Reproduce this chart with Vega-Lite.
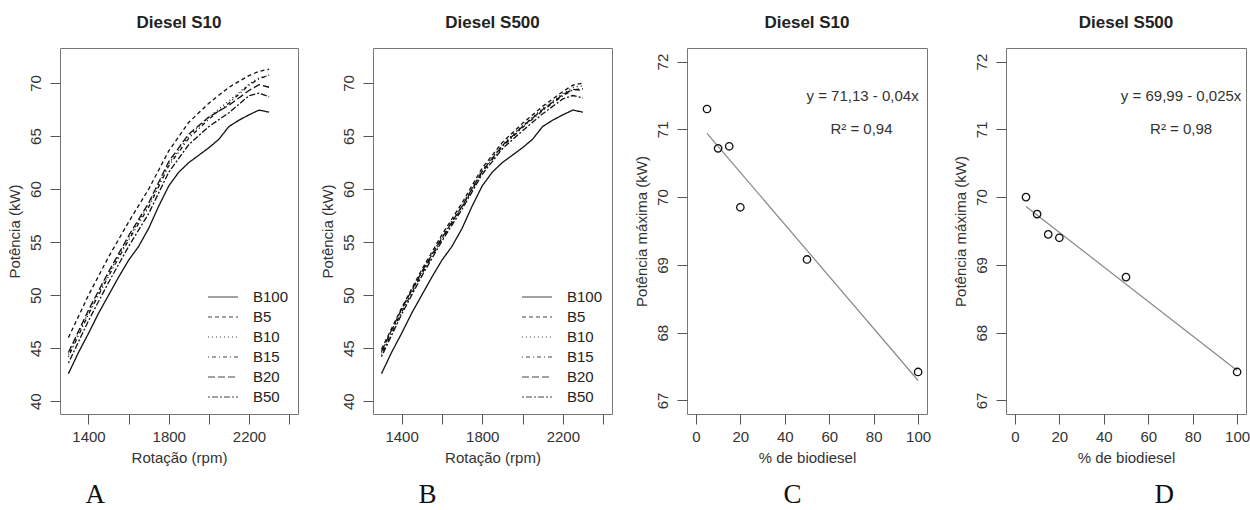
{
  "$schema": "https://vega.github.io/schema/vega-lite/v6.json",
  "background": "white",
  "padding": {"left": 6, "top": 13, "right": 0, "bottom": 0},
  "config": {
    "font": "Liberation Sans",
    "view": {"stroke": "#777", "strokeWidth": 1},
    "axis": {"domain": false, "grid": false, "tickColor": "#555", "tickSize": 10, "labelFontSize": 15, "labelColor": "#333", "titleFontSize": 15, "titleColor": "#333", "titleFontWeight": "normal", "labelPadding": 5, "titlePadding": 6},
    "axisY": {"labelAngle": -90, "labelAlign": "center", "labelBaseline": "bottom", "labelPadding": 7, "titlePadding": 6},
    "title": {"fontSize": 17, "fontWeight": "bold", "color": "#222", "offset": 16.5},
    "concat": {"spacing": 20}
  },
  "datasets": {
    "s10": [
      {"m":"B100","rpm":1300,"kW":42.6},{"m":"B100","rpm":1350,"kW":44.6},{"m":"B100","rpm":1400,"kW":46.4},{"m":"B100","rpm":1450,"kW":48.3},{"m":"B100","rpm":1500,"kW":50.0},{"m":"B100","rpm":1550,"kW":51.7},{"m":"B100","rpm":1600,"kW":53.3},{"m":"B100","rpm":1650,"kW":54.6},{"m":"B100","rpm":1700,"kW":56.3},{"m":"B100","rpm":1750,"kW":58.4},{"m":"B100","rpm":1800,"kW":60.3},{"m":"B100","rpm":1850,"kW":61.6},{"m":"B100","rpm":1900,"kW":62.5},{"m":"B100","rpm":1950,"kW":63.2},{"m":"B100","rpm":2000,"kW":63.9},{"m":"B100","rpm":2050,"kW":64.7},{"m":"B100","rpm":2100,"kW":65.9},{"m":"B100","rpm":2150,"kW":66.5},{"m":"B100","rpm":2200,"kW":67.0},{"m":"B100","rpm":2250,"kW":67.45},{"m":"B100","rpm":2300,"kW":67.25},
      {"m":"B5","rpm":1300,"kW":46.0},{"m":"B5","rpm":1400,"kW":50.0},{"m":"B5","rpm":1500,"kW":53.6},{"m":"B5","rpm":1600,"kW":56.9},{"m":"B5","rpm":1700,"kW":60.0},{"m":"B5","rpm":1800,"kW":63.6},{"m":"B5","rpm":1900,"kW":66.3},{"m":"B5","rpm":2000,"kW":68.1},{"m":"B5","rpm":2100,"kW":69.6},{"m":"B5","rpm":2200,"kW":70.7},{"m":"B5","rpm":2250,"kW":71.1},{"m":"B5","rpm":2300,"kW":71.3},
      {"m":"B10","rpm":1300,"kW":44.4},{"m":"B10","rpm":1400,"kW":48.4},{"m":"B10","rpm":1500,"kW":52.0},{"m":"B10","rpm":1600,"kW":55.4},{"m":"B10","rpm":1700,"kW":58.5},{"m":"B10","rpm":1800,"kW":62.4},{"m":"B10","rpm":1900,"kW":65.0},{"m":"B10","rpm":2000,"kW":66.8},{"m":"B10","rpm":2100,"kW":68.3},{"m":"B10","rpm":2200,"kW":69.9},{"m":"B10","rpm":2250,"kW":70.5},{"m":"B10","rpm":2300,"kW":70.7},
      {"m":"B15","rpm":1300,"kW":44.2},{"m":"B15","rpm":1400,"kW":48.2},{"m":"B15","rpm":1500,"kW":51.8},{"m":"B15","rpm":1600,"kW":55.2},{"m":"B15","rpm":1700,"kW":58.3},{"m":"B15","rpm":1800,"kW":62.2},{"m":"B15","rpm":1900,"kW":64.8},{"m":"B15","rpm":2000,"kW":66.6},{"m":"B15","rpm":2100,"kW":68.1},{"m":"B15","rpm":2200,"kW":69.8},{"m":"B15","rpm":2250,"kW":70.4},{"m":"B15","rpm":2300,"kW":70.75},
      {"m":"B20","rpm":1300,"kW":44.6},{"m":"B20","rpm":1400,"kW":48.6},{"m":"B20","rpm":1500,"kW":52.2},{"m":"B20","rpm":1600,"kW":55.6},{"m":"B20","rpm":1700,"kW":58.7},{"m":"B20","rpm":1800,"kW":62.6},{"m":"B20","rpm":1900,"kW":65.2},{"m":"B20","rpm":2000,"kW":66.8},{"m":"B20","rpm":2100,"kW":67.9},{"m":"B20","rpm":2200,"kW":69.3},{"m":"B20","rpm":2250,"kW":69.85},{"m":"B20","rpm":2300,"kW":69.6},
      {"m":"B50","rpm":1300,"kW":43.6},{"m":"B50","rpm":1400,"kW":47.6},{"m":"B50","rpm":1500,"kW":51.2},{"m":"B50","rpm":1600,"kW":54.6},{"m":"B50","rpm":1700,"kW":57.7},{"m":"B50","rpm":1800,"kW":61.6},{"m":"B50","rpm":1900,"kW":64.2},{"m":"B50","rpm":2000,"kW":65.9},{"m":"B50","rpm":2100,"kW":67.2},{"m":"B50","rpm":2200,"kW":68.8},{"m":"B50","rpm":2250,"kW":69.05},{"m":"B50","rpm":2300,"kW":68.7}
    ],
    "s500": [
      {"m":"B100","rpm":1300,"kW":42.6},{"m":"B100","rpm":1350,"kW":44.6},{"m":"B100","rpm":1400,"kW":46.4},{"m":"B100","rpm":1450,"kW":48.3},{"m":"B100","rpm":1500,"kW":50.0},{"m":"B100","rpm":1550,"kW":51.7},{"m":"B100","rpm":1600,"kW":53.3},{"m":"B100","rpm":1650,"kW":54.6},{"m":"B100","rpm":1700,"kW":56.3},{"m":"B100","rpm":1750,"kW":58.4},{"m":"B100","rpm":1800,"kW":60.3},{"m":"B100","rpm":1850,"kW":61.6},{"m":"B100","rpm":1900,"kW":62.5},{"m":"B100","rpm":1950,"kW":63.2},{"m":"B100","rpm":2000,"kW":63.9},{"m":"B100","rpm":2050,"kW":64.7},{"m":"B100","rpm":2100,"kW":65.9},{"m":"B100","rpm":2150,"kW":66.5},{"m":"B100","rpm":2200,"kW":67.0},{"m":"B100","rpm":2250,"kW":67.45},{"m":"B100","rpm":2300,"kW":67.25},
      {"m":"B5","rpm":1300,"kW":44.9},{"m":"B5","rpm":1400,"kW":48.8},{"m":"B5","rpm":1500,"kW":52.4},{"m":"B5","rpm":1600,"kW":55.7},{"m":"B5","rpm":1700,"kW":58.7},{"m":"B5","rpm":1800,"kW":62.0},{"m":"B5","rpm":1900,"kW":64.4},{"m":"B5","rpm":2000,"kW":66.2},{"m":"B5","rpm":2100,"kW":67.8},{"m":"B5","rpm":2200,"kW":69.2},{"m":"B5","rpm":2250,"kW":69.8},{"m":"B5","rpm":2300,"kW":70.0},
      {"m":"B10","rpm":1300,"kW":44.6},{"m":"B10","rpm":1400,"kW":48.6},{"m":"B10","rpm":1500,"kW":52.2},{"m":"B10","rpm":1600,"kW":55.5},{"m":"B10","rpm":1700,"kW":58.5},{"m":"B10","rpm":1800,"kW":61.8},{"m":"B10","rpm":1900,"kW":64.2},{"m":"B10","rpm":2000,"kW":66.0},{"m":"B10","rpm":2100,"kW":67.6},{"m":"B10","rpm":2200,"kW":69.0},{"m":"B10","rpm":2250,"kW":69.6},{"m":"B10","rpm":2300,"kW":69.75},
      {"m":"B15","rpm":1300,"kW":44.4},{"m":"B15","rpm":1400,"kW":48.4},{"m":"B15","rpm":1500,"kW":52.0},{"m":"B15","rpm":1600,"kW":55.3},{"m":"B15","rpm":1700,"kW":58.3},{"m":"B15","rpm":1800,"kW":61.6},{"m":"B15","rpm":1900,"kW":64.0},{"m":"B15","rpm":2000,"kW":65.8},{"m":"B15","rpm":2100,"kW":67.4},{"m":"B15","rpm":2200,"kW":68.8},{"m":"B15","rpm":2250,"kW":69.35},{"m":"B15","rpm":2300,"kW":69.45},
      {"m":"B20","rpm":1300,"kW":44.7},{"m":"B20","rpm":1400,"kW":48.7},{"m":"B20","rpm":1500,"kW":52.2},{"m":"B20","rpm":1600,"kW":55.4},{"m":"B20","rpm":1700,"kW":58.4},{"m":"B20","rpm":1800,"kW":61.7},{"m":"B20","rpm":1900,"kW":64.1},{"m":"B20","rpm":2000,"kW":65.9},{"m":"B20","rpm":2100,"kW":67.5},{"m":"B20","rpm":2200,"kW":68.9},{"m":"B20","rpm":2250,"kW":69.4},{"m":"B20","rpm":2300,"kW":69.3},
      {"m":"B50","rpm":1300,"kW":44.2},{"m":"B50","rpm":1400,"kW":48.2},{"m":"B50","rpm":1500,"kW":51.8},{"m":"B50","rpm":1600,"kW":55.1},{"m":"B50","rpm":1700,"kW":58.1},{"m":"B50","rpm":1800,"kW":61.4},{"m":"B50","rpm":1900,"kW":63.8},{"m":"B50","rpm":2000,"kW":65.5},{"m":"B50","rpm":2100,"kW":67.1},{"m":"B50","rpm":2200,"kW":68.5},{"m":"B50","rpm":2250,"kW":68.82},{"m":"B50","rpm":2300,"kW":68.6}
    ],
    "maxS10": [
      {"pct":5,"kW":71.3},{"pct":10,"kW":70.72},{"pct":15,"kW":70.75},{"pct":20,"kW":69.85},{"pct":50,"kW":69.08},{"pct":100,"kW":67.42}
    ],
    "maxS500": [
      {"pct":5,"kW":70.0},{"pct":10,"kW":69.75},{"pct":15,"kW":69.45},{"pct":20,"kW":69.4},{"pct":50,"kW":68.82},{"pct":100,"kW":67.42}
    ],
    "anotS10": [
      {"pct":75,"kW":71.49,"txt":"y = 71,13 - 0,04x"},{"pct":74.5,"kW":71.01,"txt":"R² = 0,94"}
    ],
    "anotS500": [
      {"pct":74.8,"kW":71.49,"txt":"y = 69,99 - 0,025x"},{"pct":74.8,"kW":71.01,"txt":"R² = 0,98"}
    ]
  },
  "hconcat": [
    {
      "title": {"text": "A", "orient": "bottom", "anchor": "start", "font": "Liberation Serif", "fontSize": 27, "fontWeight": "normal", "color": "#111", "offset": 16, "dx": 79},
      "resolve": {"scale": {"strokeDash": "independent"}, "legend": {"strokeDash": "independent"}},
      "vconcat": [
        {
          "title": {"text": "Diesel S10"},
          "width": 238, "height": 366,
          "data": {"name": "s10"},
          "mark": {"type": "line", "strokeWidth": 1.3, "color": "#111"},
          "encoding": {
            "x": {"field": "rpm", "type": "quantitative", "scale": {"domain": [1258, 2444], "nice": false, "zero": false}, "axis": {"values": [1400, 1600, 1800, 2000, 2200, 2400], "format": "d", "labelExpr": "datum.value % 400 == 200 ? datum.label : ''", "title": "Rotação (rpm)"}},
            "y": {"field": "kW", "type": "quantitative", "scale": {"domain": [38.8, 73.3], "nice": false, "zero": false}, "axis": {"values": [40, 45, 50, 55, 60, 65, 70], "format": "d", "title": "Potência (kW)"}},
            "strokeDash": {"field": "m", "type": "nominal", "scale": {"domain": ["B100", "B5", "B10", "B15", "B20", "B50"], "range": [[1, 0], [4, 3], [1, 3], [1, 3, 4, 3], [7, 3], [2, 2, 6, 2]]},
              "legend": {"title": null, "orient": "bottom-right", "offset": 9, "padding": 0, "symbolType": "M-1.5,0H1.5", "symbolSize": 400, "symbolStrokeWidth": 1.2, "symbolStrokeColor": "#444", "labelFontSize": 15, "labelColor": "#222", "labelOffset": 19, "rowPadding": 1}}
          }
        }
      ]
    },
    {
      "title": {"text": "B", "orient": "bottom", "anchor": "start", "font": "Liberation Serif", "fontSize": 27, "fontWeight": "normal", "color": "#111", "offset": 16, "dx": 99},
      "resolve": {"scale": {"strokeDash": "independent"}, "legend": {"strokeDash": "independent"}},
      "vconcat": [
        {
          "title": {"text": "Diesel S500"},
          "width": 239, "height": 366,
          "data": {"name": "s500"},
          "mark": {"type": "line", "strokeWidth": 1.3, "color": "#111"},
          "encoding": {
            "x": {"field": "rpm", "type": "quantitative", "scale": {"domain": [1258, 2444], "nice": false, "zero": false}, "axis": {"values": [1400, 1600, 1800, 2000, 2200, 2400], "format": "d", "labelExpr": "datum.value % 400 == 200 ? datum.label : ''", "title": "Rotação (rpm)"}},
            "y": {"field": "kW", "type": "quantitative", "scale": {"domain": [38.8, 73.3], "nice": false, "zero": false}, "axis": {"values": [40, 45, 50, 55, 60, 65, 70], "format": "d", "title": "Potência (kW)"}},
            "strokeDash": {"field": "m", "type": "nominal", "scale": {"domain": ["B100", "B5", "B10", "B15", "B20", "B50"], "range": [[1, 0], [4, 3], [1, 3], [1, 3, 4, 3], [7, 3], [2, 2, 6, 2]]},
              "legend": {"title": null, "orient": "bottom-right", "offset": 9, "padding": 0, "symbolType": "M-1.5,0H1.5", "symbolSize": 400, "symbolStrokeWidth": 1.2, "symbolStrokeColor": "#444", "labelFontSize": 15, "labelColor": "#222", "labelOffset": 19, "rowPadding": 1}}
          }
        }
      ]
    },
    {
      "title": {"text": "C", "orient": "bottom", "anchor": "start", "font": "Liberation Serif", "fontSize": 27, "fontWeight": "normal", "color": "#111", "offset": 16, "dx": 150},
      "vconcat": [
        {
          "title": {"text": "Diesel S10"},
          "width": 240, "height": 366,
          "layer": [
            {
              "data": {"name": "maxS10"},
              "transform": [{"regression": "kW", "on": "pct", "extent": [5, 100]}],
              "mark": {"type": "line", "color": "#888", "strokeWidth": 1.2},
              "encoding": {
                "x": {"field": "pct", "type": "quantitative"},
                "y": {"field": "kW", "type": "quantitative"}
              }
            },
            {
              "data": {"name": "maxS10"},
              "mark": {"type": "point", "shape": "circle", "filled": false, "size": 55, "stroke": "#111", "strokeWidth": 1.3, "opacity": 1},
              "encoding": {
                "x": {"field": "pct", "type": "quantitative", "scale": {"domain": [-4, 104], "nice": false, "zero": false}, "axis": {"values": [0, 20, 40, 60, 80, 100], "format": "d", "title": "% de biodiesel"}},
                "y": {"field": "kW", "type": "quantitative", "scale": {"domain": [66.8, 72.2], "nice": false, "zero": false}, "axis": {"values": [67, 68, 69, 70, 71, 72], "format": "d", "title": "Potência máxima (kW)"}}
              }
            },
            {
              "data": {"name": "anotS10"},
              "mark": {"type": "text", "fontSize": 15, "color": "#333", "align": "center", "baseline": "middle"},
              "encoding": {
                "x": {"field": "pct", "type": "quantitative"},
                "y": {"field": "kW", "type": "quantitative"},
                "text": {"field": "txt"}
              }
            }
          ]
        }
      ]
    },
    {
      "title": {"text": "D", "orient": "bottom", "anchor": "start", "font": "Liberation Serif", "fontSize": 27, "fontWeight": "normal", "color": "#111", "offset": 16, "dx": 202},
      "vconcat": [
        {
          "title": {"text": "Diesel S500"},
          "width": 240, "height": 366,
          "layer": [
            {
              "data": {"name": "maxS500"},
              "transform": [{"regression": "kW", "on": "pct", "extent": [5, 100]}],
              "mark": {"type": "line", "color": "#888", "strokeWidth": 1.2},
              "encoding": {
                "x": {"field": "pct", "type": "quantitative"},
                "y": {"field": "kW", "type": "quantitative"}
              }
            },
            {
              "data": {"name": "maxS500"},
              "mark": {"type": "point", "shape": "circle", "filled": false, "size": 55, "stroke": "#111", "strokeWidth": 1.3, "opacity": 1},
              "encoding": {
                "x": {"field": "pct", "type": "quantitative", "scale": {"domain": [-4, 104], "nice": false, "zero": false}, "axis": {"values": [0, 20, 40, 60, 80, 100], "format": "d", "title": "% de biodiesel"}},
                "y": {"field": "kW", "type": "quantitative", "scale": {"domain": [66.8, 72.2], "nice": false, "zero": false}, "axis": {"values": [67, 68, 69, 70, 71, 72], "format": "d", "title": "Potência máxima (kW)"}}
              }
            },
            {
              "data": {"name": "anotS500"},
              "mark": {"type": "text", "fontSize": 15, "color": "#333", "align": "center", "baseline": "middle"},
              "encoding": {
                "x": {"field": "pct", "type": "quantitative"},
                "y": {"field": "kW", "type": "quantitative"},
                "text": {"field": "txt"}
              }
            }
          ]
        }
      ]
    }
  ],
  "resolve": {"scale": {"strokeDash": "independent"}, "legend": {"strokeDash": "independent"}}
}
